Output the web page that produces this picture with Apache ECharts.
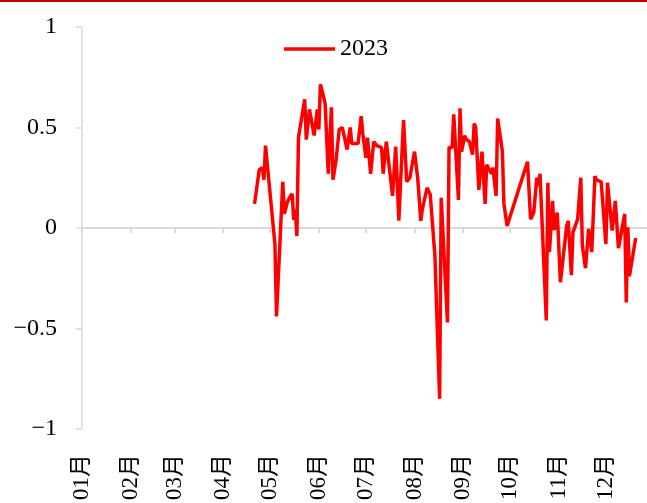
<!DOCTYPE html>
<html>
<head>
<meta charset="utf-8">
<script src="https://cdn.jsdelivr.net/npm/echarts@6/dist/echarts.min.js"></script>
<style>
html,body{margin:0;padding:0;background:#fff;}
#chart{width:647px;height:503px;}
</style>
</head>
<body>
<div id="chart"></div>
<script>
const seriesName = '2023';
const monthLabels = ['01月','02月','03月','04月','05月','06月','07月','08月','09月','10月','11月','12月'];
const yTicks = [-1, -0.5, 0, 0.5, 1];
const dates = [
 '2023-04-21','2023-04-24','2023-04-26','2023-04-27','2023-04-28','2023-05-04','2023-05-05','2023-05-09','2023-05-10','2023-05-12',
 '2023-05-14','2023-05-15','2023-05-16','2023-05-17','2023-05-18','2023-05-19','2023-05-23','2023-05-24','2023-05-26','2023-05-29',
 '2023-05-31','2023-06-01','2023-06-02','2023-06-05','2023-06-07','2023-06-09','2023-06-10','2023-06-12','2023-06-14','2023-06-16',
 '2023-06-19','2023-06-21','2023-06-22','2023-06-26','2023-06-28','2023-06-29','2023-07-01','2023-07-02','2023-07-04','2023-07-06',
 '2023-07-08','2023-07-11','2023-07-12','2023-07-14','2023-07-18','2023-07-20','2023-07-22','2023-07-23','2023-07-25','2023-07-27',
 '2023-07-29','2023-08-01','2023-08-03','2023-08-05','2023-08-06','2023-08-09','2023-08-11','2023-08-14','2023-08-17','2023-08-18',
 '2023-08-22','2023-08-23','2023-08-25','2023-08-26','2023-08-29','2023-08-30','2023-08-31','2023-09-02','2023-09-03','2023-09-05',
 '2023-09-07','2023-09-08','2023-09-09','2023-09-11','2023-09-13','2023-09-15','2023-09-16','2023-09-17','2023-09-19','2023-09-20',
 '2023-09-22','2023-09-23','2023-09-26','2023-09-27','2023-09-29','2023-10-12','2023-10-14','2023-10-16','2023-10-18','2023-10-19',
 '2023-10-20','2023-10-24','2023-10-25','2023-10-26','2023-10-28','2023-10-29','2023-10-31','2023-11-02','2023-11-06','2023-11-07',
 '2023-11-09','2023-11-10','2023-11-11','2023-11-13','2023-11-15','2023-11-16','2023-11-18','2023-11-20','2023-11-22','2023-11-24',
 '2023-11-25','2023-11-28','2023-12-01','2023-12-02','2023-12-05','2023-12-07','2023-12-09','2023-12-13','2023-12-14','2023-12-15',
 '2023-12-16','2023-12-20'
];
const values = [
 0.12, 0.29, 0.30, 0.24, 0.41, -0.08, -0.44, 0.23, 0.07, 0.13,
 0.16, 0.17, 0.04, 0.09, -0.04, 0.45, 0.64, 0.44, 0.59, 0.46,
 0.59, 0.49, 0.715, 0.62, 0.27, 0.60, 0.24, 0.34, 0.49, 0.50,
 0.39, 0.50, 0.42, 0.42, 0.556, 0.47, 0.35, 0.45, 0.27, 0.43,
 0.41, 0.40, 0.27, 0.43, 0.16, 0.405, 0.036, 0.21, 0.537, 0.23,
 0.25, 0.38, 0.25, 0.036, 0.094, 0.20, 0.167, -0.14, -0.85, 0.15,
 -0.47, 0.40, 0.40, 0.566, 0.14, 0.595, 0.38, 0.46, 0.44, 0.43,
 0.365, 0.52, 0.50, 0.19, 0.38, 0.12, 0.315, 0.30, 0.27, 0.30,
 0.16, 0.545, 0.38, 0.12, 0.01, 0.33, 0.044, 0.077, 0.25, 0.21,
 0.27, -0.46, 0.225, -0.12, 0.135, -0.01, 0.077, -0.27, 0.01, 0.036,
 -0.235, -0.02, 0.0, 0.044, 0.25, -0.087, -0.20, -0.005, -0.12, 0.258,
 0.24, 0.23, -0.08, 0.225, -0.013, 0.135, -0.10, 0.07, -0.37, 0.003,
 -0.24, -0.05
];

const monthStarts = monthLabels.map((_, i) => Date.UTC(2023, i, 1));
const xMin = Date.UTC(2023, 0, 1);
const xMax = Date.UTC(2023, 11, 27, 5);
const data = dates.map((d, i) => [new Date(d + 'T00:00:00Z').getTime(), values[i]]);
const serif = "'Liberation Serif', 'Times New Roman', 'Noto Sans CJK SC', serif";

const chart = echarts.init(document.getElementById('chart'), null, {renderer: 'canvas'});
chart.setOption({
  animation: false,
  backgroundColor: '#ffffff',
  graphic: [{
    type: 'rect', left: 0, top: 0, shape: {width: 647, height: 2}, style: {fill: '#c00000'}, silent: true
  }],
  legend: {
    data: [seriesName],
    left: 279, top: 32,
    icon: 'rect', itemWidth: 51, itemHeight: 3.5, itemGap: 8,
    textStyle: {fontFamily: serif, fontSize: 24, color: '#000'}
  },
  grid: {left: 82, top: 27, right: 0, height: 406, containLabel: false},
  xAxis: [{
    type: 'value', min: xMin, max: xMax, position: 'bottom',
    axisLine: {show: false, onZero: false},
    axisTick: {show: false},
    splitLine: {show: false},
    axisLabel: {
      customValues: monthStarts,
      rotate: 90, margin: 25,
      fontFamily: serif, fontSize: 23, color: '#000',
      formatter: (v) => monthLabels[new Date(v).getUTCMonth()]
    }
  }, {
    type: 'value', min: xMin, max: xMax, position: 'bottom',
    axisLine: {show: true, onZero: true, lineStyle: {color: '#d9d9d9', width: 2}},
    axisTick: {show: true, customValues: monthStarts, length: 5, inside: false, lineStyle: {color: '#d9d9d9', width: 2}},
    axisLabel: {show: false},
    splitLine: {show: false}
  }],
  yAxis: {
    type: 'value', min: -1, max: 1, interval: 0.5,
    axisLine: {show: true, lineStyle: {color: '#d9d9d9', width: 1.5}},
    axisTick: {show: true, length: 6, lineStyle: {color: '#d9d9d9', width: 1.5}},
    splitLine: {show: false},
    axisLabel: {
      margin: 25, fontFamily: serif, fontSize: 24, color: '#000',
      formatter: (v) => String(v).replace('-', '\u2212')
    }
  },
  series: [{
    name: seriesName, type: 'line', xAxisIndex: 0, data: data,
    showSymbol: false, symbol: 'none',
    lineStyle: {color: '#ff0000', width: 3.5},
    itemStyle: {color: '#ff0000'}
  }]
});
</script>
</body>
</html>
